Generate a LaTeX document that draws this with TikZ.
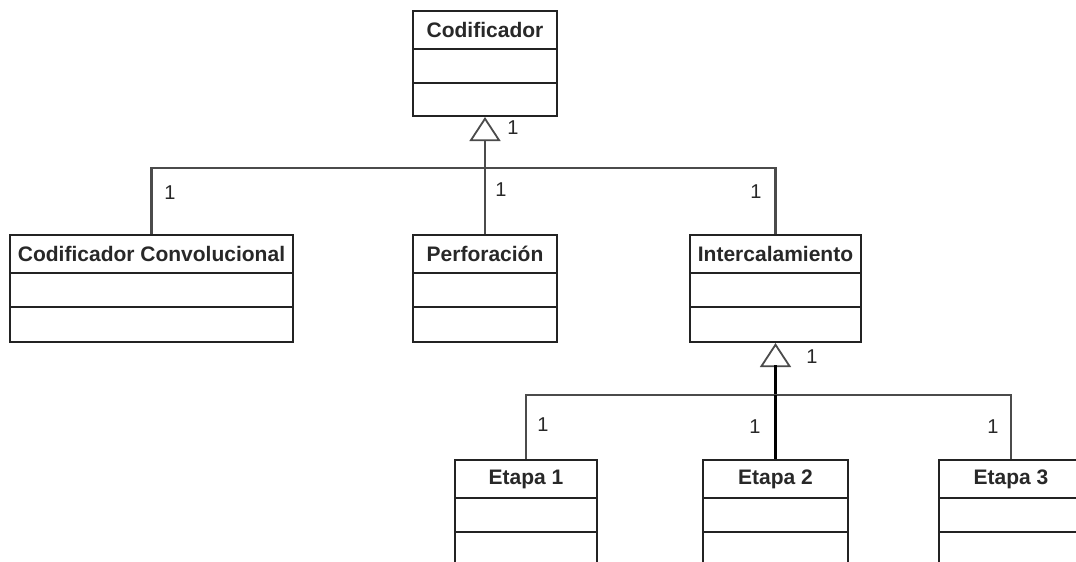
\documentclass[tikz,border=0pt]{standalone}
\usepackage{fontspec}
\setmainfont{Liberation Sans}
\usetikzlibrary{arrows.meta}
\definecolor{boxline}{RGB}{35,35,35}
\definecolor{connline}{RGB}{75,75,75}
\definecolor{txt}{RGB}{40,40,40}

% UML class with three compartments: name, left, right, top, bottom, title
\newcommand{\umlcls}[6]{%
  \node[classbox, minimum width={#3-#2}, minimum height={#5-#4}]
    (#1) at ({(#2+#3)/2},{(#4+#5)/2}) {};
  \node[classtitle] (#1-title) at ({(#2+#3)/2},{#4+19}) {#6};
  \draw[boxline, line width=2.1pt] ({#2},{#4+38}) -- ({#3},{#4+38});
  \draw[boxline, line width=2.1pt] ({#2},{#4+72}) -- ({#3},{#4+72});
}

\begin{document}
\begin{tikzpicture}[x=1pt, y=-1pt,
  classbox/.style={draw=boxline, line width=2.1pt, fill=white, inner sep=0pt, shape=rectangle},
  classtitle/.style={font=\bfseries\fontsize{21}{24}\selectfont, text=txt, inner sep=0pt},
  mult/.style={font=\fontsize{20}{22}\selectfont, text=txt, inner sep=0pt},
  conn/.style={draw=connline, line width=2.1pt},
  gen/.style={conn, -{Triangle[open, length=24pt, width=31pt, line width=1.8pt]}},
  thickstem/.style={draw=black, line width=3.8pt}
]
\useasboundingbox (0,0) rectangle (1076,562);
\clip (0,0) rectangle (1076,562);
\fill[white] (0,0) rectangle (1076,562);

% classes
\umlcls{cod}{413}{557}{11}{116}{Codificador}
\umlcls{cc}{10}{293}{235}{342}{Codificador Convolucional}
\umlcls{perf}{413}{557}{235}{342}{Perforación}
\umlcls{inter}{690}{861}{235}{342}{Intercalamiento}
\umlcls{et1}{455}{597}{460}{570}{Etapa 1}
\umlcls{et2}{703}{848}{460}{570}{Etapa 2}
\umlcls{et3}{939}{1083}{460}{570}{Etapa 3}

% first generalization tree
\coordinate (j1) at (485,168);
\draw[gen] (j1) -- (cod.south);
\draw[conn] (cc.north) |- (j1) -| (inter.north);
\draw[conn] (j1) -- (perf.north);

% second generalization tree
\coordinate (j2) at (775.5,395);
\coordinate (t2base) at (775.5,365);
\draw[gen] (j2) -- (inter.south);
\draw[thickstem] (j2) -- (t2base);
\draw[conn] (et1.north) |- (j2) -| (et3.north);
\draw[conn, draw=black] (j2) -- (et2.north);

% multiplicities
\node[mult] (m0) at (513,128) {1};
\node[mult] (m1) at (170,193) {1};
\node[mult] (m2) at (501,190) {1};
\node[mult] (m3) at (756,192) {1};
\node[mult] (m4) at (812,357) {1};
\node[mult] (m5) at (543,425) {1};
\node[mult] (m6) at (755,427) {1};
\node[mult] (m7) at (993,427) {1};
\end{tikzpicture}
\end{document}
